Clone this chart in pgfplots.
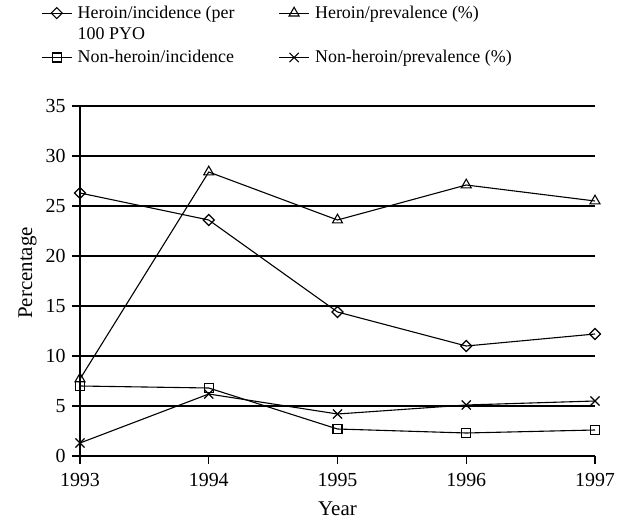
\documentclass[border=0pt]{standalone}
\usepackage{fontspec}
\setmainfont{Liberation Serif}
\usepackage{pgfplots}
\pgfplotsset{compat=1.18}
\begin{document}
\begin{tikzpicture}
\begin{axis}[
  scale only axis, width=515bp, height=350bp,
  at={(0,0)}, anchor=south west,
  xmin=1993, xmax=1997, ymin=0, ymax=35,
  xtick={1993,1994,1995,1996,1997}, ytick={0,5,...,35},
  /pgf/number format/assume math mode=true,
  xticklabel style={/pgf/number format/1000 sep={}, yshift=-6bp},
  yticklabel style={xshift=-3bp},
  tick label style={font=\fontsize{20}{24}\selectfont, black},
  label style={font=\fontsize{21}{24}\selectfont},
  axis lines=left, axis line style={-, black, line width=1.1bp},
  ymajorgrids, grid style={black, line width=1.1bp},
  tick align=outside, major tick length=8bp,
  tick style={black, line width=1.1bp},
  xlabel={Year}, ylabel={Percentage},
  xlabel style={yshift=-8bp},
  ylabel style={yshift=2bp, xshift=8bp},
  every axis plot/.append style={black, line width=1.1bp, mark options={solid, fill=white}},
  legend columns=2,
  legend image code/.code={\path[draw=none,fill=none] (0bp,0bp) -- (34bp,0bp);\draw[mark repeat=2,mark phase=2,#1] plot coordinates {(0bp,5.5bp) (15bp,5.5bp) (30bp,5.5bp)};},
  legend style={draw=none, fill=none, at={(axis description cs:0,1)}, anchor=north west,
    xshift=-42bp, yshift=104bp, font=\fontsize{18}{20}\selectfont,
    cells={anchor=base west}, row sep=3bp,
    /tikz/every even column/.append style={column sep=42bp}},
]
\addplot[mark=square, mark size=3.9bp, mark options={rotate=45, fill=white}] coordinates {(1993,26.3) (1994,23.6) (1995,14.4) (1996,11.0) (1997,12.2)};
\addlegendentry{Heroin/incidence (per}
\addplot[mark=triangle, mark size=5.8bp] coordinates {(1993,7.7) (1994,28.4) (1995,23.6) (1996,27.1) (1997,25.5)};
\addlegendentry{Heroin/prevalence (\%)}
\addlegendimage{empty legend}
\addlegendentry[yshift=3bp]{100 PYO}
\addlegendimage{empty legend}
\addlegendentry{}
\addplot[mark=square, mark size=4.5bp] coordinates {(1993,7.0) (1994,6.8) (1995,2.7) (1996,2.3) (1997,2.6)};
\addlegendentry{Non-heroin/incidence}
\addplot[mark=x, mark size=6.5bp] coordinates {(1993,1.3) (1994,6.2) (1995,4.2) (1996,5.1) (1997,5.5)};
\addlegendentry{Non-heroin/prevalence (\%)}
\end{axis}
\pgfresetboundingbox
\path[use as bounding box] (-80bp,-65bp) rectangle (543bp,456bp);
\end{tikzpicture}
\end{document}
